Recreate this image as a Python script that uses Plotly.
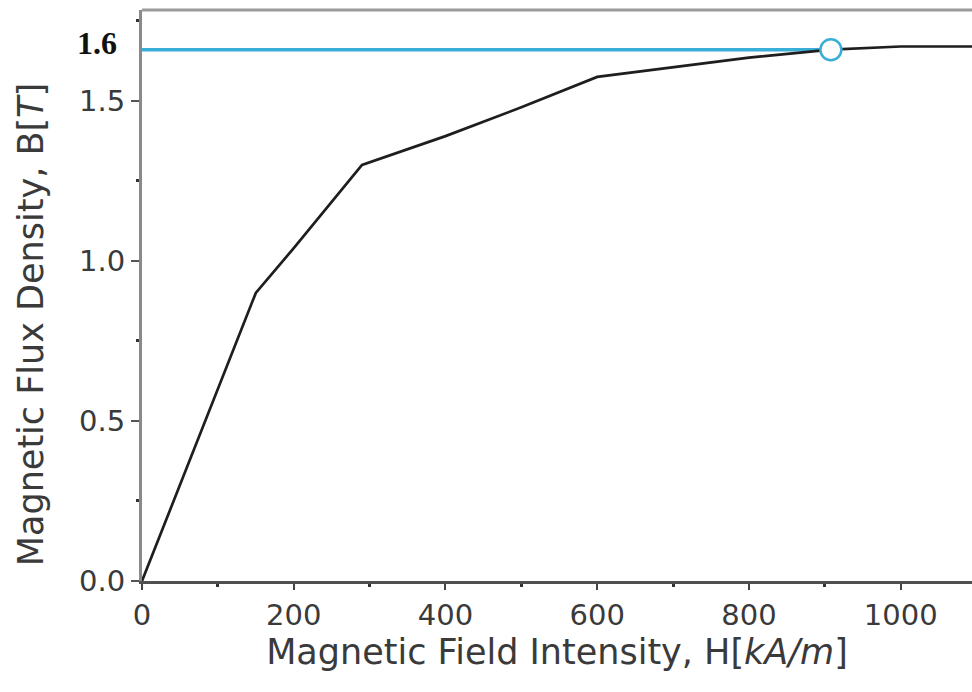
import plotly.graph_objects as go

# B-H curve data
H_values = [0, 150, 200, 290, 400, 500, 600, 700, 800, 908, 1000, 1094]
B_values = [0.0, 0.90, 1.04, 1.30, 1.39, 1.48, 1.575, 1.605, 1.635, 1.66, 1.67, 1.67]

# operating point marker
H_op = [908]
B_op = [1.66]
op_label = "1.6"

x_ticks = [0, 200, 400, 600, 800, 1000]
y_ticks = [0.0, 0.5, 1.0, 1.5]

x_title = "Magnetic Field Intensity, H[<i>kA/m</i>]"
y_title = "Magnetic Flux Density, B[<i>T</i>]"

cyan = "#3aaed6"

fig = go.Figure()

# horizontal cyan line from the axis to the operating point
fig.add_trace(go.Scatter(
    x=[0, H_op[0]], y=[B_op[0], B_op[0]], mode="lines",
    line=dict(color=cyan, width=3.5), hoverinfo="skip", showlegend=False))

fig.add_trace(go.Scatter(
    x=H_values, y=B_values, mode="lines",
    line=dict(color="#1e1e1e", width=2.7), showlegend=False))

fig.add_trace(go.Scatter(
    x=H_op, y=B_op, mode="markers",
    marker=dict(size=21, color="white", line=dict(color=cyan, width=2.5)),
    showlegend=False))

fig.add_annotation(
    xref="paper", x=0, xanchor="right", xshift=-23,
    yref="y", y=B_op[0], yanchor="middle", yshift=7,
    text="<b>" + op_label + "</b>", showarrow=False,
    font=dict(family="Liberation Serif", size=32, color="#111"))

# y-axis title (placed as rotated text, slightly below the plot centre as in the reference)
fig.add_annotation(
    xref="paper", x=0, xanchor="center", xshift=-111,
    yref="paper", y=0.448, yanchor="middle",
    textangle=-90, text=y_title, showarrow=False,
    font=dict(family="DejaVu Sans", size=35, color="#3a3a3a"))

# top frame line
fig.add_shape(type="line", xref="paper", yref="paper", x0=0, x1=1, y0=1, y1=1,
              line=dict(color="#9a9a9a", width=3))

fig.update_layout(
    width=972, height=692,
    margin=dict(l=142, r=0, t=10, b=111),
    paper_bgcolor="white", plot_bgcolor="white",
    font=dict(family="DejaVu Sans", color="#3a3a3a"),
)

fig.update_xaxes(
    range=[0, 1094], tickvals=x_ticks,
    showgrid=False, zeroline=False,
    showline=True, linecolor="#505050", linewidth=3,
    ticks="outside", ticklen=6, tickwidth=2, tickcolor="#444",
    tickfont=dict(size=29, color="#3a3a3a"),
    minor=dict(tickvals=[100, 300, 500, 700, 900], ticks="outside", ticklen=3, tickwidth=3, tickcolor="#333"),
    title=dict(text=x_title, font=dict(size=35, color="#3a3a3a"), standoff=6),
)

fig.update_yaxes(
    range=[0, 1.784], tickvals=y_ticks, tickformat=".1f",
    showgrid=False, zeroline=False,
    showline=True, linecolor="#8a8a8a", linewidth=3,
    ticks="outside", ticklen=8, tickwidth=2, tickcolor="#555",
    tickfont=dict(size=29, color="#3a3a3a"),
    minor=dict(tickvals=[0.25, 0.75, 1.25, 1.75], ticks="outside", ticklen=3, tickwidth=3, tickcolor="#333"),
)

fig.write_html("out.html")
